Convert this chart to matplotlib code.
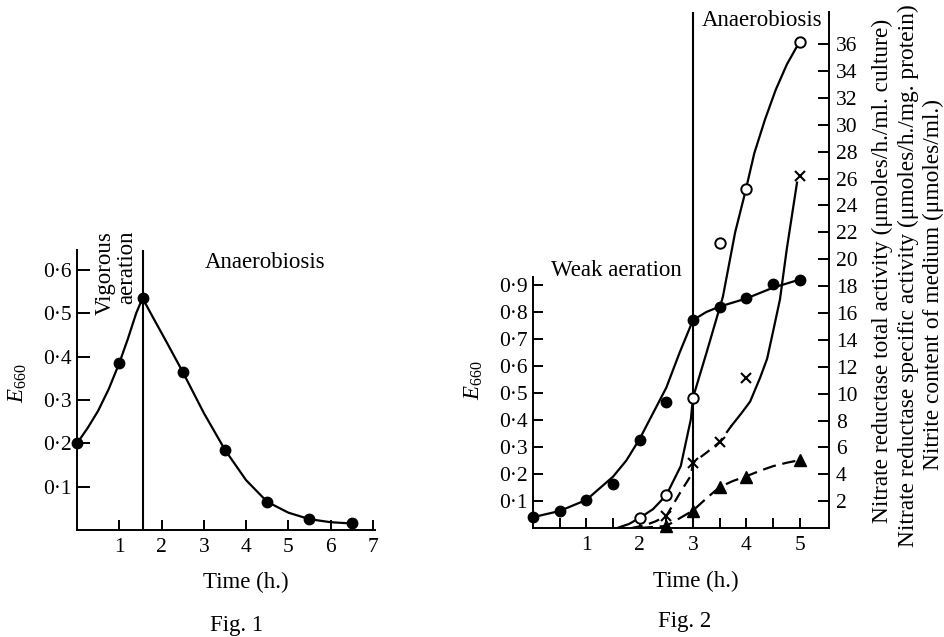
import matplotlib
matplotlib.use('Agg')
import matplotlib.pyplot as plt
from matplotlib.ticker import FixedLocator, NullFormatter

plt.rcParams['font.family'] = ['Liberation Serif', 'DejaVu Serif']
plt.rcParams['mathtext.fontset'] = 'custom'
plt.rcParams['mathtext.rm'] = 'Liberation Serif'
plt.rcParams['mathtext.it'] = 'Liberation Serif:italic'

# ---- Fig. 1 data (time h., E660) ----
f1_t = [0, 1.0, 1.55, 2.5, 3.5, 4.5, 5.5, 6.5]
f1_e = [0.20, 0.385, 0.535, 0.365, 0.185, 0.065, 0.025, 0.015]
# points
f1_curve_t = [0, 0.25, 0.5, 0.75, 1.0, 1.2, 1.4, 1.55, 1.8, 2.1, 2.5, 3.0, 3.5, 4.0, 4.5, 5.0, 5.5, 6.0, 6.5]
f1_curve_e = [0.20, 0.235, 0.275, 0.325, 0.385, 0.44, 0.50, 0.535, 0.49, 0.437, 0.365, 0.27, 0.185, 0.115, 0.065, 0.04, 0.025, 0.018, 0.015]
f1_switch = 1.55

# ---- Fig. 2 data ----
f2_t = [0, 0.5, 1.0, 1.5, 2.0, 2.5, 3.0, 3.5, 4.0, 4.5, 5.0]
f2_e = [0.04, 0.063, 0.104, 0.163, 0.326, 0.465, 0.77, 0.82, 0.85, 0.905, 0.92]
f2_e_curve_t = [0, 0.5, 1.0, 1.5, 1.75, 2.0, 2.25, 2.5, 2.75, 3.0, 3.25, 3.5, 3.75, 4.0, 4.5, 5.0]
f2_e_curve = [0.04, 0.063, 0.104, 0.19, 0.25, 0.33, 0.425, 0.52, 0.65, 0.77, 0.80, 0.82, 0.835, 0.85, 0.89, 0.92]

# nitrate reductase total activity (open circles)
tot_t = [2.0, 2.5, 3.0, 3.5, 4.0, 5.0]
tot_v = [0.75, 2.45, 9.7, 21.2, 25.2, 36.2]
tot_curve_t = [1.58, 1.8, 2.0, 2.25, 2.5, 2.77, 2.96, 3.0, 3.25, 3.56, 3.79, 3.98, 4.15, 4.35, 4.55, 4.76, 5.0]
tot_curve_v = [0, 0.3, 0.75, 1.4, 2.45, 4.6, 8.1, 9.7, 13.0, 17.2, 22.0, 25.0, 27.9, 30.4, 32.6, 34.5, 36.2]

# nitrate reductase specific activity (crosses)
spec_t = [2.5, 3.0, 3.5, 4.0, 5.0]
spec_v = [0.9, 4.85, 6.4, 11.2, 26.2]
spec_dash_t = [1.85, 2.1, 2.3, 2.5, 2.77, 2.96, 3.0, 3.25, 3.5, 3.72]
spec_dash_v = [0, 0.2, 0.5, 0.9, 2.7, 3.9, 4.85, 5.6, 6.4, 7.6]
spec_solid_t = [3.72, 3.9, 4.07, 4.26, 4.39, 4.5, 4.63, 4.76, 4.95]
spec_solid_v = [7.6, 8.5, 9.4, 11.2, 12.6, 14.6, 17.0, 20.8, 25.7]

# nitrite content of medium (triangles)
nit_t = [2.5, 3.0, 3.5, 4.0, 5.0]
nit_v = [0.15, 1.3, 3.05, 3.8, 5.05]
nit_curve_t = [2.0, 2.5, 3.0, 3.25, 3.5, 3.75, 4.0, 4.25, 4.5, 4.75, 5.0]
nit_curve_v = [0, 0.15, 1.3, 2.2, 3.05, 3.5, 3.85, 4.25, 4.6, 4.85, 5.05]
f2_switch = 3.0

W, H = 944, 637
fig = plt.figure(figsize=(9.44, 6.37), dpi=100)


def box(l, t, r, b):
    return [l / W, 1 - b / H, (r - l) / W, (b - t) / H]


FS = 15.5   # tick labels
FT = 16.5   # annotations
LW = 1.6

# ================= Fig. 1 =================
ax1 = fig.add_axes(box(77, 250, 375, 530))
ax1.set_xlim(0, 7.05)
ax1.set_ylim(0, 0.646)
for s in ['top', 'right']:
    ax1.spines[s].set_visible(False)
for s in ['left', 'bottom']:
    ax1.spines[s].set_linewidth(1.4)
ax1.plot(f1_curve_t, f1_curve_e, color='black', lw=LW, zorder=2)
ax1.plot(f1_t, f1_e, 'o', color='black', ms=7.5, zorder=3, clip_on=False)
ax1.axvline(f1_switch, color='black', lw=1.5)
ax1.set_xticks(range(1, 8))
ax1.set_yticks([0.1, 0.2, 0.3, 0.4, 0.5, 0.6])
ax1.set_yticklabels(['0·1', '0·2', '0·3', '0·4', '0·5', '0·6'])
ax1.tick_params(axis='x', direction='in', length=7, width=1.4, labelsize=FS, pad=6)
ax1.tick_params(axis='y', direction='in', length=9, width=1.4, labelsize=FS, pad=4)
fig.text(18 / W, 1 - 383 / H, r'$\mathit{E}_{\mathit{660}}$', rotation=90,
         ha='center', va='center', fontsize=FS + 1)
fig.text(265 / W, 1 - 263 / H, 'Anaerobiosis', ha='center', va='center', fontsize=FT)
fig.text(116 / W, 1 - 231 / H, 'Vigorous\naeration', rotation=90, ha='center', va='top',
         multialignment='right', fontsize=FT, linespacing=1.02)
fig.text(246 / W, 1 - 582 / H, 'Time (h.)', ha='center', va='center', fontsize=FT)
fig.text(237 / W, 1 - 625 / H, 'Fig. 1', ha='center', va='center', fontsize=FT)

# ================= Fig. 2 =================
ax2 = fig.add_axes(box(533, 12, 829, 528))
ax2.set_xlim(0, 5.55)
ax2.set_ylim(0, 1.911)
ax3 = ax2.twinx()
ax3.set_ylim(0, 38.4)

for a in (ax2, ax3):
    a.spines['top'].set_visible(False)
    for s in ['left', 'right', 'bottom']:
        a.spines[s].set_linewidth(1.4)
ax2.spines['right'].set_visible(False)
ax3.spines['left'].set_visible(False)
ax3.spines['bottom'].set_visible(False)
ax2.spines['left'].set_bounds(0, 0.93)

ax2.plot(f2_e_curve_t, f2_e_curve, color='black', lw=LW, zorder=2)
ax2.plot(f2_t, f2_e, 'o', color='black', ms=7.5, zorder=3, clip_on=False)
ax2.axvline(f2_switch, color='black', lw=1.5)

ax3.plot(tot_curve_t, tot_curve_v, color='black', lw=LW, zorder=2)
ax3.plot(tot_t, tot_v, 'o', mfc='white', mec='black', mew=1.4, ms=7.5, zorder=3)
ax3.plot(spec_dash_t, spec_dash_v, color='black', lw=LW, dashes=(5, 3), zorder=2)
ax3.plot(spec_solid_t, spec_solid_v, color='black', lw=LW, zorder=2)
ax3.plot(spec_t, spec_v, 'x', color='black', mew=1.5, ms=6.5, zorder=3)
ax3.plot(nit_curve_t, nit_curve_v, color='black', lw=LW, dashes=(6, 3), zorder=2)
ax3.plot(nit_t, nit_v, '^', color='black', ms=8, zorder=3, clip_on=False)

ax2.xaxis.set_major_locator(FixedLocator([1, 2, 3, 4, 5]))
ax2.xaxis.set_minor_locator(FixedLocator([0.5, 1.5, 2.5, 3.5, 4.5]))
ax2.xaxis.set_minor_formatter(NullFormatter())
ax2.set_yticks([0.1, 0.2, 0.3, 0.4, 0.5, 0.6, 0.7, 0.8, 0.9])
ax2.set_yticklabels(['0·1', '0·2', '0·3', '0·4', '0·5', '0·6', '0·7', '0·8', '0·9'])
ax2.tick_params(axis='x', which='both', direction='in', length=7, width=1.4, labelsize=FS, pad=6)
ax2.tick_params(axis='y', direction='in', length=7, width=1.4, labelsize=FS, pad=4)
ax3.set_yticks(list(range(2, 37, 2)))
ax3.tick_params(axis='y', direction='in', length=8, width=1.4, labelsize=FS, pad=5)

fig.text(474 / W, 1 - 380 / H, r'$\mathit{E}_{\mathit{660}}$', rotation=90,
         ha='center', va='center', fontsize=FS + 1)
fig.text(616 / W, 1 - 271 / H, 'Weak aeration', ha='center', va='center', fontsize=FT)
fig.text(762 / W, 1 - 20 / H, 'Anaerobiosis', ha='center', va='center', fontsize=FT)
fig.text(696 / W, 1 - 581 / H, 'Time (h.)', ha='center', va='center', fontsize=FT)
fig.text(685 / W, 1 - 621 / H, 'Fig. 2', ha='center', va='center', fontsize=FT)

fig.text(882 / W, 1 - 271 / H, 'Nitrate reductase total activity (μmoles/h./ml. culture)',
         rotation=90, ha='center', va='center', fontsize=16.8)
fig.text(908 / W, 1 - 276 / H, 'Nitrate reductase specific activity (μmoles/h./mg. protein)',
         rotation=90, ha='center', va='center', fontsize=16.8)
fig.text(933 / W, 1 - 284 / H, 'Nitrite content of medium (μmoles/ml.)',
         rotation=90, ha='center', va='center', fontsize=16.8)

fig.savefig('out.png', dpi=100)
